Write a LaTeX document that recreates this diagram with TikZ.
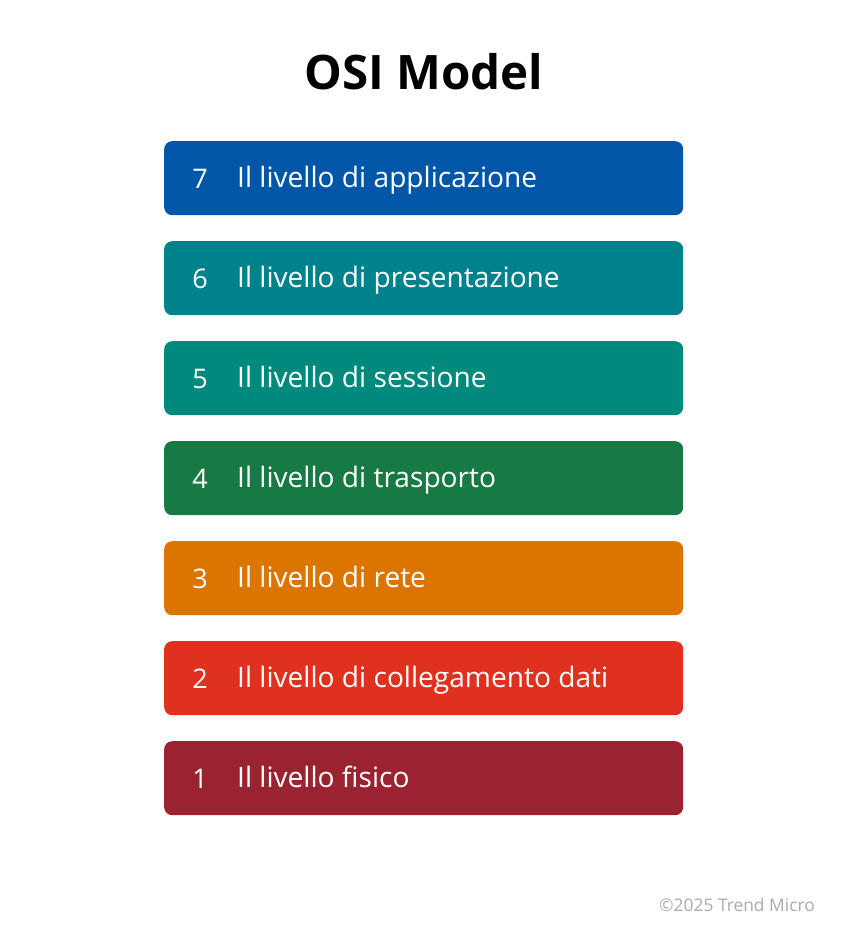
\documentclass[tikz,border=0pt]{standalone}
\usepackage{fontspec}
\setmainfont{Open Sans}
\definecolor{c7}{HTML}{0057A8}
\definecolor{c6}{HTML}{00828C}
\definecolor{c5}{HTML}{008A7E}
\definecolor{c4}{HTML}{177A44}
\definecolor{c3}{HTML}{DB7500}
\definecolor{c2}{HTML}{E0301E}
\definecolor{c1}{HTML}{9A2330}
\definecolor{foot}{HTML}{ABABAB}
\tikzset{
  layerbox/.style={fill=#1, draw=none, rounded corners=8pt, minimum width=519pt, minimum height=74pt, inner sep=0pt, anchor=north west},
  numtext/.style={text=white, font=\fontsize{27}{32}\selectfont, anchor=base, inner sep=0pt},
  layertext/.style={text=white, font=\fontsize{28.1}{32}\selectfont, anchor=base west, inner sep=0pt},
}
\begin{document}
\begin{tikzpicture}[x=1pt,y=-1pt]
\useasboundingbox[fill=white] (0,0) rectangle (847,947);
\node[font=\fontsize{47.5}{54}\selectfont\bfseries, anchor=base, inner sep=0pt] (title) at (424,90) {OSI Model};
\foreach \n/\t [count=\i from 0] in {7/Il livello di applicazione,6/Il livello di presentazione,5/Il livello di sessione,4/Il livello di trasporto,3/Il livello di rete,2/Il livello di collegamento dati,1/Il livello fisico}{
  \node[layerbox=c\n] (box\n) at (164,{141+100*\i}) {};
  \node[numtext] (num\n) at (200,{188+100*\i}) {\n};
  \node[layertext] (lab\n) at (237,{187+100*\i}) {\t};
}
\node[text=foot, font=\fontsize{17.4}{20}\selectfont, anchor=base east, inner sep=0pt] (footer) at (815,911) {©2025 Trend Micro};
\end{tikzpicture}
\end{document}
